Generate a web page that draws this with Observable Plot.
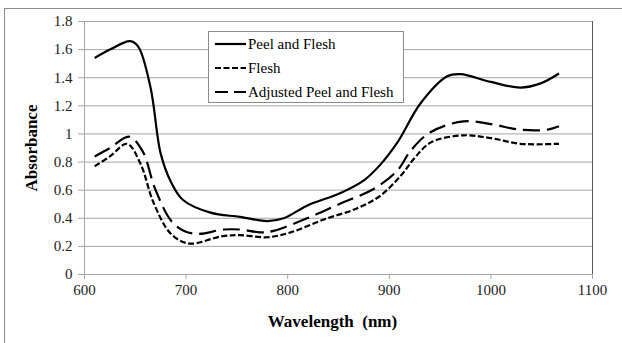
<!DOCTYPE html>
<html>
<head>
<meta charset="utf-8">
<script src="https://cdn.jsdelivr.net/npm/d3@7"></script>
<script src="https://cdn.jsdelivr.net/npm/@observablehq/plot@0.6"></script>
<style>
  html, body { margin: 0; padding: 0; background: #fff; overflow: hidden; }
  #wrap { position: relative; width: 622px; height: 343px; overflow: hidden; }
  #frame { position: absolute; left: 4px; top: 8px; width: 700px; height: 400px; border: 1px solid #8c8c8c; box-sizing: border-box; }
  #chart { position: absolute; left: 0; top: 0; }
  #legend { position: absolute; left: 208px; top: 31px; width: 196px; height: 72px; border: 1px solid #8c8c8c; background: #fff; box-sizing: border-box; font-family: "Liberation Serif", "Times New Roman", serif; font-size: 15px; color: #000; }
  .row { position: absolute; left: 6px; height: 18px; display: flex; align-items: center; white-space: nowrap; }
  .row svg { margin-right: 2px; }
</style>
</head>
<body>
<div id="wrap">
  <div id="frame"></div>
  <div id="chart"></div>
  <div id="legend"></div>
</div>
<script>
// Series names
const seriesNames = ["Peel and Flesh", "Flesh", "Adjusted Peel and Flesh"];

// Peel and Flesh
const peelW = [610, 625, 645, 653, 665, 675, 685, 697, 724, 753, 780, 796, 819, 852, 875, 891, 908, 931, 957, 970, 1000, 1029, 1049, 1067];
const peelA = [1.54, 1.60, 1.66, 1.62, 1.33, 0.86, 0.66, 0.53, 0.44, 0.41, 0.38, 0.40, 0.49, 0.58, 0.67, 0.78, 0.94, 1.22, 1.41, 1.425, 1.37, 1.33, 1.36, 1.43];

// Flesh
const fleshW = [610, 625, 642, 655, 668, 685, 703, 734, 753, 780, 803, 835, 868, 891, 911, 925, 941, 973, 1000, 1029, 1067];
const fleshA = [0.77, 0.84, 0.93, 0.79, 0.51, 0.29, 0.22, 0.27, 0.28, 0.265, 0.30, 0.39, 0.47, 0.56, 0.70, 0.83, 0.94, 0.99, 0.97, 0.93, 0.93];

// Adjusted Peel and Flesh
const adjW = [610, 625, 644, 657, 670, 688, 708, 737, 753, 773, 786, 819, 852, 885, 908, 921, 940, 973, 1000, 1029, 1055, 1067];
const adjA = [0.84, 0.90, 0.98, 0.88, 0.60, 0.36, 0.29, 0.32, 0.32, 0.30, 0.31, 0.40, 0.505, 0.61, 0.74, 0.88, 1.01, 1.09, 1.07, 1.03, 1.03, 1.055];

// Ticks
const xTicks = [600, 700, 800, 900, 1000, 1100];
const yTicks = [0, 0.2, 0.4, 0.6, 0.8, 1, 1.2, 1.4, 1.6, 1.8];

const dashes = [null, "6,2.5", "17,7"];
const toRows = (ws, as) => ws.map((w, i) => ({w, a: as[i]}));
const series = [toRows(peelW, peelA), toRows(fleshW, fleshA), toRows(adjW, adjA)];

const font = '"Liberation Serif", "Times New Roman", serif';

const chart = Plot.plot({
  width: 622,
  height: 343,
  marginLeft: 84,
  marginRight: 30,
  marginTop: 21,
  marginBottom: 69,
  style: { fontFamily: font, fontSize: "15px", color: "#222", background: "transparent" },
  x: { domain: [600, 1100] },
  y: { domain: [0, 1.8] },
  marks: [
    Plot.ruleY(yTicks, {stroke: "#a6a6a6", strokeWidth: 1}),
    Plot.ruleX([600], {stroke: "#a6a6a6", strokeWidth: 1}),
    Plot.ruleX([1100], {stroke: "#5a5a5a", strokeWidth: 1}),
    Plot.axisX({ticks: xTicks, tickSize: 5, tickPadding: 5, stroke: "#a6a6a6", tickFormat: d => String(d),
       label: "Wavelength  (nm)", labelAnchor: "center", labelArrow: "none", labelOffset: 52}),
    Plot.axisY({ticks: yTicks, tickSize: 6, tickPadding: 6, stroke: "#a6a6a6", tickFormat: d => String(+d.toFixed(1)),
       label: "Absorbance", labelAnchor: "center", labelArrow: "none", labelOffset: 60}),
    ...series.map((s, i) => Plot.line(s, {
      x: "w", y: "a", curve: "catmull-rom", stroke: "#000", strokeWidth: 2.2,
      strokeDasharray: dashes[i], strokeLinecap: "butt"
    }))
  ]
});

// Bold axis titles
chart.querySelectorAll("[aria-label='x-axis label'] text, [aria-label='y-axis label'] text").forEach(t => {
  t.setAttribute("font-weight", "bold");
  t.setAttribute("font-size", "17px");
  t.setAttribute("fill", "#000");
  t.setAttribute("xml:space", "preserve");
  t.style.whiteSpace = "pre";
});
chart.querySelectorAll("[aria-label='x-axis label'] text").forEach(t => t.setAttribute("dx", "-6"));
chart.querySelectorAll("[aria-label='x-axis tick label'] text, [aria-label='y-axis tick label'] text").forEach(t => {
  t.setAttribute("fill", "#222");
});
document.getElementById("chart").appendChild(chart);

// Legend
const legend = document.getElementById("legend");
const rowTops = [3, 27, 51];
seriesNames.forEach((name, i) => {
  const row = document.createElement("div");
  row.className = "row";
  row.style.top = rowTops[i] + "px";
  const ns = "http://www.w3.org/2000/svg";
  const svg = document.createElementNS(ns, "svg");
  svg.setAttribute("width", 31);
  svg.setAttribute("height", 6);
  const ln = document.createElementNS(ns, "line");
  ln.setAttribute("x1", 0); ln.setAttribute("x2", 31);
  ln.setAttribute("y1", 3); ln.setAttribute("y2", 3);
  ln.setAttribute("stroke", "#000");
  ln.setAttribute("stroke-width", 2.2);
  if (dashes[i]) ln.setAttribute("stroke-dasharray", i === 2 ? "13,6" : "6,2.5");
  svg.appendChild(ln);
  row.appendChild(svg);
  const span = document.createElement("span");
  span.textContent = name;
  row.appendChild(span);
  legend.appendChild(row);
});
</script>
</body>
</html>
